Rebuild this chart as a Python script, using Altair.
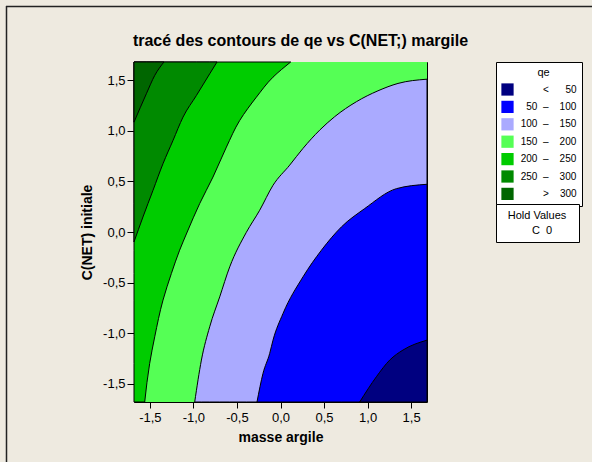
import altair as alt
import pandas as pd

# axis range of the coded factors
LO, HI = -1.682, 1.682
tick_values = [-1.5, -1.0, -0.5, 0.0, 0.5, 1.0, 1.5]

# qe classes (legend order) and their colours
levels = ["< 50", "50 – 100", "100 – 150", "150 – 200", "200 – 250", "250 – 300", "> 300"]
colors = ["#000080", "#0000FF", "#AAAAFF", "#55FF55", "#00CC00", "#008A00", "#006600"]

# contour boundaries: x = masse argile, y = C(NET) initiale
c300_x = [-1.682, -1.540, -1.444, -1.338]
c300_y = [1.087, 1.368, 1.549, 1.682]
c250_x = [-1.682, -1.579, -1.464, -1.349, -1.234, -1.119, -0.966, -0.813, -0.729]
c250_y = [-0.098, 0.149, 0.412, 0.676, 0.906, 1.137, 1.350, 1.565, 1.682]
c200_x = [-1.559, -1.502, -1.444, -1.349, -1.253, -1.158, -1.071, -0.928, -0.775, -0.621, -0.468, -0.277, -0.086, 0.117]
c200_y = [-1.682, -1.300, -1.037, -0.674, -0.411, -0.180, 0.000, 0.281, 0.544, 0.840, 1.104, 1.334, 1.532, 1.682]
c150_x = [-0.985, -0.908, -0.813, -0.698, -0.583, -0.392, -0.239, -0.086, 0.106, 0.258, 0.450, 0.622, 0.871, 1.119, 1.349, 1.682]
c150_y = [-1.682, -1.267, -0.938, -0.642, -0.345, -0.003, 0.215, 0.462, 0.662, 0.827, 1.008, 1.141, 1.289, 1.397, 1.470, 1.512]
c100_x = [-0.270, -0.201, -0.124, -0.086, 0.029, 0.258, 0.470, 0.699, 0.967, 1.331, 1.682]
c100_y = [-1.682, -1.399, -1.201, -1.070, -0.806, -0.444, -0.180, 0.050, 0.232, 0.429, 0.472]
c50_x = [0.909, 1.101, 1.254, 1.406, 1.682]
c50_y = [-1.682, -1.432, -1.267, -1.168, -1.070]

hold_values = ["C 0"]

FONT = "Liberation Sans"
nb = "\u00a0"
zw = "\u200b"  # keeps leading padding from being trimmed
legend_text = {
    "< 50": zw + nb * 8 + "<" + nb * 6 + "50",
    "50 – 100": zw + nb * 2 + "50" + nb * 2 + "–" + nb * 4 + "100",
    "100 – 150": "100" + nb * 2 + "–" + nb * 4 + "150",
    "150 – 200": "150" + nb * 2 + "–" + nb * 4 + "200",
    "200 – 250": "200" + nb * 2 + "–" + nb * 4 + "250",
    "250 – 300": "250" + nb * 2 + "–" + nb * 4 + "300",
    "> 300": zw + nb * 8 + ">" + nb * 4 + "300",
}
label_expr = "".join(f"datum.label == '{k}' ? '{v}' : " for k, v in legend_text.items()) + "datum.label"

num_expr = "(datum.value < 0 ? '-' : '') + replace(format(abs(datum.value), '.1f'), '.', ',')"

X = alt.X("x:Q", scale=alt.Scale(domain=[LO, HI], nice=False, zero=False),
          axis=alt.Axis(values=tick_values, labelExpr=num_expr, tickSize=6, labelPadding=3,
                        titlePadding=6, grid=False, domain=False),
          title="masse argile")
Y = alt.Y("y:Q", scale=alt.Scale(domain=[LO, HI], nice=False, zero=False),
          axis=alt.Axis(values=tick_values, labelExpr=num_expr, tickSize=7, labelPadding=2,
                        titlePadding=8, grid=False, domain=False),
          title="C(NET) initiale")
C = alt.Color("level:N", scale=alt.Scale(domain=levels, range=colors),
              legend=alt.Legend(title=zw + nb * 3 + "qe", orient="none", legendX=362, legendY=0,
                                symbolType="square", symbolSize=150, symbolStrokeWidth=0,
                                symbolOpacity=1, labelExpr=label_expr, labelOffset=6.7,
                                labelFont=FONT, labelFontSize=10, labelColor="black",
                                titleFont=FONT, titleFontSize=11, titleFontWeight="normal",
                                titleColor="black", titleAnchor="middle", titlePadding=5,
                                rowPadding=4.4, padding=5, fillColor="white",
                                strokeColor="black", cornerRadius=0))


def region(xs, ys, level):
    return pd.DataFrame({"x": xs, "y": ys, "level": level})


area_kw = dict(interpolate="monotone", stroke="black", strokeWidth=1)
layers = []
# middle band fills the whole plot first
layers.append(alt.Chart(region([LO, HI], [HI, HI], "150 – 200")).mark_area().encode(
    x=X, y=Y, y2=alt.datum(LO), color=C))
# left of the 200 contour
layers.append(alt.Chart(region(c200_x, c200_y, "200 – 250")).mark_area(
    orient="horizontal", **area_kw).encode(x=X, x2=alt.datum(LO), y=Y, color=C))
# above the 250 and 300 contours
layers.append(alt.Chart(region(c250_x, c250_y, "250 – 300")).mark_area(**area_kw).encode(
    x=X, y=Y, y2=alt.datum(HI), color=C))
layers.append(alt.Chart(region(c300_x, c300_y, "> 300")).mark_area(**area_kw).encode(
    x=X, y=Y, y2=alt.datum(HI), color=C))
# below the 150, 100 and 50 contours
for xs, ys, lvl in [(c150_x, c150_y, "100 – 150"), (c100_x, c100_y, "50 – 100"),
                    (c50_x, c50_y, "< 50")]:
    layers.append(alt.Chart(region(xs, ys, lvl)).mark_area(**area_kw).encode(
        x=X, y=Y, y2=alt.datum(LO), color=C))

hold = pd.DataFrame({"hold": hold_values})
layers.append(alt.Chart(hold).mark_point(opacity=0).encode(
    shape=alt.Shape("hold:N", legend=alt.Legend(
        title=zw + nb * 2 + "Hold Values" + nb * 2 + zw, orient="none", legendX=362, legendY=142,
        symbolSize=0, symbolStrokeWidth=0, symbolOpacity=0, labelOffset=0,
        labelExpr="replace(datum.label, ' ', '" + nb * 2 + "')",
        labelFont=FONT, labelFontSize=11, labelColor="black",
        titleFont=FONT, titleFontSize=11, titleFontWeight="normal", titleColor="black",
        titleAnchor="middle", titlePadding=4, padding=6, fillColor="white",
        strokeColor="black", cornerRadius=0))))

# window frame (top and left edges)
layers.append(alt.Chart(hold).mark_rule(color="#222222", strokeWidth=1.5, clip=False).encode(
    x=alt.value(-128), x2=alt.value(470), y=alt.value(-55.5)))
layers.append(alt.Chart(hold).mark_rule(color="#222222", strokeWidth=1.5, clip=False).encode(
    x=alt.value(-127.5), y=alt.value(-56), y2=alt.value(410)))

chart = alt.layer(*layers).properties(
    width=293, height=340,
    autosize=alt.AutoSizeParams(type="none"),
    padding={"left": 134, "top": 62, "right": 165, "bottom": 60},
    background="#EEEAE0",
    title=alt.TitleParams("tracé des contours de qe vs C(NET;) margile", font=FONT,
                          fontSize=16, fontWeight="bold", color="black", anchor="middle",
                          frame="group", baseline="alphabetic", offset=0, dx=20, dy=57),
).configure_view(stroke="black", strokeWidth=1).configure_axis(
    labelFont=FONT, labelFontSize=13, labelColor="black", tickColor="black",
    titleFont=FONT, titleFontSize=14, titleFontWeight="bold", titleColor="black")

chart.save("out.html", embed_options={"renderer": "svg", "actions": False})
